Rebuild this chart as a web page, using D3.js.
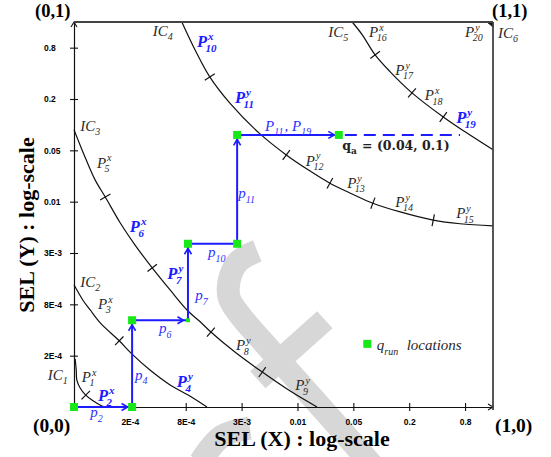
<!DOCTYPE html>
<html>
<head>
<meta charset="utf-8">
<script src="https://cdn.jsdelivr.net/npm/d3@7/dist/d3.min.js"></script>
<style>
html,body{margin:0;padding:0;background:#fff;}
svg{display:block;}
text{white-space:pre;}
</style>
</head>
<body>
<svg id="chart" width="551" height="457"></svg>
<script>
// ---------- data (positions in tick-index units of the log-scaled axes: 0 = origin (0), 7.5 = 1) ----------
const xTickLabels = ["2E-4","8E-4","3E-3","0.01","0.05","0.2","0.8"];
const yTickLabels = ["2E-4","8E-4","3E-3","0.01","0.05","0.2","0.8"];
const tickIdx = [1,2,3,4,5,6,7];

// iso-cost contours IC1..IC5 (x index, y index)
const ic1 = [[0.02,0.94],[0.04,0.72],[0.05,0.53],[0.11,0.37],[0.21,0.23],[0.34,0.12],[0.50,0.02],[0.57,0]];
const ic2 = [[0,2.38],[0.16,2.08],[0.29,1.89],[0.47,1.64],[0.81,1.29],[1.04,1.03],[1.36,0.72],[1.72,0.43],[2.08,0.21],[2.38,0]];
const ic3 = [[0,5.40],[0.11,5.10],[0.22,4.81],[0.38,4.42],[0.56,4.09],[0.82,3.60],[1.09,3.16],[1.40,2.71],[1.72,2.28],[2.04,1.87],[2.26,1.66],[2.45,1.46],[2.88,1.07],[3.37,0.68],[3.87,0.31],[4.35,0]];
const ic4 = [[1.93,7.5],[2.17,6.95],[2.43,6.43],[2.79,5.92],[3.33,5.32],[3.80,4.91],[4.22,4.60],[4.58,4.36],[4.98,4.15],[5.35,3.97],[5.84,3.80],[6.43,3.64],[6.91,3.57],[7.5,3.53]];
const ic5 = [[4.98,7.5],[5.16,7.25],[5.39,6.86],[5.66,6.53],[6.05,6.12],[6.61,5.65],[7.0,5.36],[7.5,5.01]];
const ic6 = [[7.39,7.5],[7.45,7.45],[7.5,7.40],[7.5,7.5]];
const contours = [ic1, ic2, ic3, ic4, ic5];

// plan-boundary marks on the contours
const ic1Marks = [[0.21,0.23]];
const ic2Marks = [[0.81,1.29]];
const ic3Marks = [[0.56,4.09],[1.40,2.71],[2.45,1.46],[3.37,0.68]];
const ic4Marks = [[2.43,6.43],[3.80,4.91],[4.58,4.36],[5.35,3.97],[6.43,3.64]];
const ic5Marks = [[5.39,6.86],[6.05,6.12],[6.61,5.65]];
const contourMarks = [ic1Marks, ic2Marks, ic3Marks, ic4Marks, ic5Marks];

// q_run locations (execution path)
const qrunX = [0,1.04,1.04,2.04,2.04,2.92,2.92,4.74];
const qrunY = [0,0,1.69,1.69,3.18,3.18,5.30,5.30];
const qrunArrow = [true,true,true,true,false,true,true];
const qrunSmall = [false,false,false,true,false,false,false,false];
const qaDashEnd = [6.91,5.30];
const legendAt = [5.25,1.23];

// watermark strokes (light grey, background)
const wmMain = [[3.28,3.04],[2.94,2.83],[2.78,2.47],[2.78,2.12],[2.97,1.79],[3.35,1.31],[4.94,-0.64],[5.48,-1.31]];
const wmBar = [[3.29,0.53],[4.49,1.70]];
const wmLoop = [[3.15,-0.41],[2.65,-0.57],[2.26,-1.07]];

// annotations
const notes = [
 {s:"g", x:-0.47, y:0.53, parts:["IC",{sub:"1"}]},
 {s:"g", x:0.14, y:0.49, parts:["P",{sub:"1",sup:"x"}]},
 {s:"g", x:0.11, y:2.34, parts:["IC",{sub:"2"}]},
 {s:"g", x:0.43, y:1.91, parts:["P",{sub:"3",sup:"x"}]},
 {s:"g", x:0.11, y:5.38, parts:["IC",{sub:"3"}]},
 {s:"g", x:0.41, y:4.66, parts:["P",{sub:"5",sup:"x"}]},
 {s:"g", x:1.41, y:7.23, parts:["IC",{sub:"4"}]},
 {s:"g", x:4.55, y:7.21, parts:["IC",{sub:"5"}]},
 {s:"g", x:5.28, y:7.21, parts:["P",{sub:"16",sup:"x"}]},
 {s:"g", x:7.0, y:7.21, parts:["P",{sub:"20",sup:"y"}]},
 {s:"g", x:7.59, y:7.19, parts:["IC",{sub:"6"}]},
 {s:"g", x:5.75, y:6.47, parts:["P",{sub:"17",sup:"y"}]},
 {s:"g", x:6.28, y:5.98, parts:["P",{sub:"18",sup:"x"}]},
 {s:"g", x:4.15, y:4.70, parts:["P",{sub:"12",sup:"y"}]},
 {s:"g", x:4.89, y:4.27, parts:["P",{sub:"13",sup:"y"}]},
 {s:"g", x:5.75, y:3.90, parts:["P",{sub:"14",sup:"y"}]},
 {s:"g", x:6.84, y:3.68, parts:["P",{sub:"15",sup:"y"}]},
 {s:"g", x:2.90, y:1.11, parts:["P",{sub:"8",sup:"y"}]},
 {s:"g", x:3.96, y:0.33, parts:["P",{sub:"9",sup:"y"}]},
 {s:"b", x:0.43, y:0.12, parts:["P",{sub:"2",sup:"x"}]},
 {s:"b", x:1.84, y:0.39, parts:["P",{sub:"4",sup:"y"}]},
 {s:"b", x:1.00, y:3.41, parts:["P",{sub:"6",sup:"x"}]},
 {s:"b", x:1.67, y:2.49, parts:["P",{sub:"7",sup:"y"}]},
 {s:"b", x:2.20, y:7.01, parts:["P",{sub:"10",sup:"x"}]},
 {s:"b", x:2.88, y:5.92, parts:["P",{sub:"11",sup:"y"}]},
 {s:"b", x:6.84, y:5.53, parts:["P",{sub:"19",sup:"y"}]},
 {s:"p", x:0.29, y:-0.20, parts:["p",{sub:"2"}]},
 {s:"p", x:1.09, y:0.53, parts:["p",{sub:"4"}]},
 {s:"p", x:1.52, y:1.44, parts:["p",{sub:"6"}]},
 {s:"p", x:2.17, y:2.08, parts:["p",{sub:"7"}]},
 {s:"p", x:2.40, y:2.92, parts:["p",{sub:"10"}]},
 {s:"p", x:2.94, y:4.07, parts:["p",{sub:"11"}]},
 {s:"p", x:3.42, y:5.38, parts:["P",{sub:"11"},", P",{sub:"19"}]},
 {s:"q", x:4.80, y:5.01, parts:["q",{sub:"a"}," = (0.04, 0.1)"]},
 {s:"g", x:5.42, y:1.11, parts:["q",{sub:"run"},"  locations"]}
];

// ---------- drawing ----------
const SERIF = "'Liberation Serif','Times New Roman',serif";
const ST = {
  g: {fam:SERIF, style:"italic", weight:"normal", size:15, small:10, fill:"#2a2a2a"},
  b: {fam:SERIF, style:"italic", weight:"bold", size:16.5, small:11, fill:"#1c1cff"},
  p: {fam:SERIF, style:"italic", weight:"normal", size:15, small:10, fill:"#3030ff"},
  q: {fam:"'DejaVu Serif',serif", style:"normal", weight:"bold", size:12.5, small:9, fill:"#222"}
};
const BLUE = "#1c1cff", GREEN = "#18e818";

const svg = d3.select("#chart");
const X = d3.scaleLinear().domain([0,7.5]).range([74,493]);
const Y = d3.scaleLinear().domain([0,7.5]).range([407,22]);
const lineGen = d3.line().x(d=>X(d[0])).y(d=>Y(d[1]));

// watermark
const wm = svg.append("g").attr("fill","none").attr("stroke","#d7d7d7").attr("stroke-width",23);
wm.append("path").attr("d", lineGen.curve(d3.curveCatmullRom)(wmMain));
wm.append("path").attr("d", lineGen.curve(d3.curveLinear)(wmBar));
wm.append("path").attr("d", lineGen.curve(d3.curveCatmullRom)(wmLoop));

// contours
const cg = svg.append("g").attr("fill","none").attr("stroke","#111").attr("stroke-width",1.2);
contours.forEach(c => cg.append("path").attr("d", lineGen.curve(d3.curveCatmullRom)(c)));
svg.append("path").attr("d", lineGen.curve(d3.curveLinear)(ic6) + "Z").attr("fill","#111").attr("stroke","#111");

// marks on contours
contours.forEach((c, ci) => {
  contourMarks[ci].forEach(pt => {
    const k = d3.minIndex(c, v => (v[0]-pt[0])**2 + (v[1]-pt[1])**2);
    const a = c[Math.max(0,k-1)], b = c[Math.min(c.length-1,k+1)];
    const dx = X(b[0])-X(a[0]), dy = Y(b[1])-Y(a[1]);
    const L = Math.hypot(dx,dy), nx = -dy/L, ny = dx/L;
    const cx = X(pt[0]), cy = Y(pt[1]);
    cg.append("line").attr("x1",cx-nx*6).attr("y1",cy-ny*6).attr("x2",cx+nx*6).attr("y2",cy+ny*6);
  });
});

// axes
const xAxis = d3.axisBottom(X).tickValues(tickIdx).tickFormat((d,i)=>xTickLabels[i]).tickSizeInner(4).tickSizeOuter(0);
const gx = svg.append("g").attr("transform",`translate(0,${Y(0)})`).call(xAxis);
gx.selectAll(".tick line").attr("y1",-4).attr("y2",4).attr("stroke","#111").attr("stroke-width",1.1);
gx.selectAll(".tick text").attr("y",18).attr("dy",0)
  .attr("font-family","'Liberation Sans',Arial,sans-serif").attr("font-weight","bold").attr("font-size",8.5).attr("fill","#000");
gx.select(".domain").attr("stroke","#111").attr("stroke-width",1.2);

const yAxis = d3.axisLeft(Y).tickValues(tickIdx).tickFormat((d,i)=>yTickLabels[i]).tickSizeInner(4).tickSizeOuter(0);
const gy = svg.append("g").attr("transform",`translate(${X(0)},0)`).call(yAxis);
gy.selectAll(".tick line").attr("x1",-4).attr("x2",4).attr("stroke","#111").attr("stroke-width",1.1);
gy.selectAll(".tick text").attr("x",-30).attr("dy","0.35em").attr("text-anchor","start")
  .attr("font-family","'Liberation Sans',Arial,sans-serif").attr("font-weight","bold").attr("font-size",8.5).attr("fill","#000");
gy.select(".domain").attr("stroke","#111").attr("stroke-width",1.2);

function chevron(g, tx, ty, ux, uy, color, len, half, sw){
  const px = -uy, py = ux;
  const p = d3.path();
  p.moveTo(tx-ux*len+px*half, ty-uy*len+py*half);
  p.lineTo(tx,ty);
  p.lineTo(tx-ux*len-px*half, ty-uy*len-py*half);
  g.append("path").attr("d",p.toString()).attr("fill","none").attr("stroke",color).attr("stroke-width",sw);
}
// axis arrows
chevron(svg, X(7.5), Y(0), 1, 0, "#111", 5, 3, 1.1);
chevron(svg, X(0), Y(7.5), 0, -1, "#111", 5, 3, 1.1);

// frame (top and right edges)
svg.append("line").attr("x1",X(0)).attr("x2",X(7.5)).attr("y1",Y(7.5)).attr("y2",Y(7.5)).attr("stroke","#444").attr("stroke-width",1.8);
svg.append("line").attr("x1",X(7.5)).attr("x2",X(7.5)).attr("y1",Y(7.5)).attr("y2",Y(-0.06)).attr("stroke","#444").attr("stroke-width",1.8);

// q_run path
const pg = svg.append("g");
for (let i=0;i<qrunX.length-1;i++){
  const x1=X(qrunX[i]), y1=Y(qrunY[i]), x2=X(qrunX[i+1]), y2=Y(qrunY[i+1]);
  pg.append("line").attr("x1",x1).attr("y1",y1).attr("x2",x2).attr("y2",y2).attr("stroke",BLUE).attr("stroke-width",2);
  if (qrunArrow[i]){
    const L = Math.hypot(x2-x1,y2-y1), ux=(x2-x1)/L, uy=(y2-y1)/L;
    chevron(pg, x2-ux*4.5, y2-uy*4.5, ux, uy, BLUE, 6, 3.5, 1.6);
  }
}
const last = qrunX.length-1;
pg.append("line").attr("x1",X(qrunX[last])).attr("y1",Y(qrunY[last]))
  .attr("x2",X(qaDashEnd[0])).attr("y2",Y(qaDashEnd[1]))
  .attr("stroke",BLUE).attr("stroke-width",2).attr("stroke-dasharray","12,7").attr("stroke-dashoffset",-6);
qrunX.forEach((xv,i)=>{
  const s = qrunSmall[i] ? 4 : 8;
  pg.append("rect").attr("x",X(xv)-s/2).attr("y",Y(qrunY[i])-s/2).attr("width",s).attr("height",s).attr("fill",GREEN);
});
svg.append("rect").attr("x",X(legendAt[0])-4).attr("y",Y(legendAt[1])-4).attr("width",8).attr("height",8).attr("fill",GREEN);

// labels
function drawNote(n){
  const st = ST[n.s];
  let cx = X(n.x); const cy = Y(n.y);
  const g = svg.append("g").attr("fill",st.fill).attr("font-family",st.fam)
    .attr("font-style",st.style).attr("font-weight",st.weight);
  n.parts.forEach(p=>{
    if (typeof p === "string"){
      const t = g.append("text").attr("x",cx).attr("y",cy).attr("font-size",st.size).text(p);
      cx += t.node().getComputedTextLength();
    } else {
      let w = 0;
      if (p.sup){
        const t = g.append("text").attr("x",cx+1).attr("y",cy-st.size*0.42).attr("font-size",st.small).text(p.sup);
        w = Math.max(w, t.node().getComputedTextLength()+1);
      }
      if (p.sub){
        const off = p.sup ? -1.5 : 0;
        const t = g.append("text").attr("x",cx+off).attr("y",cy+st.size*0.3).attr("font-size",st.small).text(p.sub);
        w = Math.max(w, t.node().getComputedTextLength()+off);
      }
      cx += w + 1;
    }
  });
}
notes.forEach(drawNote);

// corner labels and axis titles
function ttl(txt, x, y, size, rot){
  const t = svg.append("text").attr("font-family",SERIF).attr("font-weight","bold").attr("font-size",size).attr("fill","#000").text(txt);
  if (rot){ t.attr("transform",`translate(${x},${y}) rotate(-90)`).attr("text-anchor","middle"); }
  else t.attr("x",x).attr("y",y);
  return t;
}
ttl("(0,1)", X(0)-39, Y(7.5)-5, 18.5);
ttl("(1,1)", X(7.5)-1, Y(7.5)-5, 18.5);
ttl("(0,0)", X(0)-41, Y(0)+25, 19.5);
ttl("(1,0)", X(7.5)+2, Y(0)+25, 19.5);
ttl("SEL (X) : log-scale", 302, 446, 22, false).attr("text-anchor","middle");
ttl("SEL (Y) : log-scale", 34, 225, 22, true);
</script>
</body>
</html>
